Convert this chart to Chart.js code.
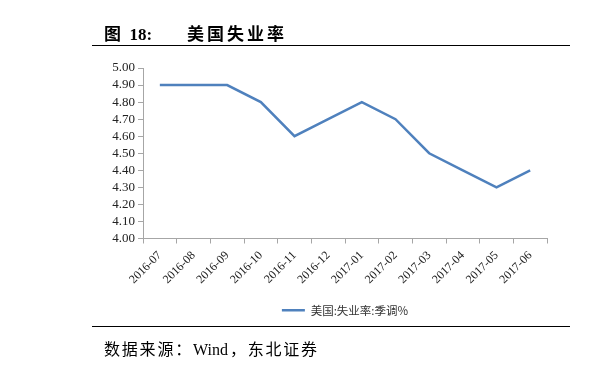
<!DOCTYPE html>
<html>
<head>
<meta charset="utf-8">
<script src="https://cdn.jsdelivr.net/npm/chart.js@4"></script>
<style>
  html, body { margin: 0; padding: 0; background: #fff; }
  #wrap { position: relative; width: 601px; height: 376px; overflow: hidden; }
  #chart { position: absolute; left: 0; top: 0; }
  .title { position: absolute; left: 104px; top: 20px; font: bold 17px "Liberation Serif", "Noto Sans CJK SC", serif; color: #000; white-space: pre; }
  .title .cn { position: absolute; left: 83px; top: 0; letter-spacing: 3px; }
  .rule { position: absolute; left: 92px; width: 478px; height: 0; border-top: 1.6px solid #000; }
  .source { position: absolute; left: 104px; top: 336px; font: 16px "Liberation Serif", "Noto Sans CJK SC", serif; color: #000; white-space: pre; letter-spacing: 1.8px; }
  .source .en { letter-spacing: 0; margin-right: 2px; }
</style>
</head>
<body>
<div id="wrap">
  <canvas id="chart" width="601" height="376"></canvas>
  <div class="title">图  18:<span class="cn">美国失业率</span></div>
  <div class="rule" style="top:45px"></div>
  <div class="rule" style="top:326px"></div>
  <div class="source">数据来源：<span class="en">Wind</span>，东北证券</div>
</div>
<script>
const months = ["2016-07", "2016-08", "2016-09", "2016-10", "2016-11", "2016-12",
                "2017-01", "2017-02", "2017-03", "2017-04", "2017-05", "2017-06"];
const unemployment = [4.9, 4.9, 4.9, 4.8, 4.6, 4.7, 4.8, 4.7, 4.5, 4.4, 4.3, 4.4];
const seriesName = "美国:失业率:季调%";

const blue = "#4F81BD";
const axisGray = "#A6A6A6";

// keep the legend centred under the plot area, not the whole canvas
const centreLegend = {
  id: "centreLegend",
  beforeDraw(chart) {
    const lg = chart.legend;
    if (!lg) return;
    lg.left = chart.chartArea.left;
    lg.right = chart.chartArea.right;
    lg.width = lg.right - lg.left;
  }
};

new Chart(document.getElementById("chart").getContext("2d"), {
  type: "line",
  data: {
    labels: months,
    datasets: [{
      label: seriesName,
      data: unemployment,
      borderColor: blue,
      backgroundColor: blue,
      borderWidth: 2.5,
      pointRadius: 0,
      tension: 0
    }]
  },
  plugins: [centreLegend],
  options: {
    responsive: false,
    animation: false,
    layout: { padding: { top: 68, left: 0, right: 54, bottom: 50 } },
    plugins: {
      tooltip: { enabled: false },
      legend: {
        position: "bottom",
        labels: {
          boxWidth: 23,
          boxHeight: 2.5,
          padding: 10,
          color: "#333",
          font: { family: "'Noto Sans CJK SC', 'Liberation Serif'", size: 11.5 },
          generateLabels: chart =>
            Chart.defaults.plugins.legend.labels.generateLabels(chart)
              .map(l => Object.assign(l, { lineWidth: 0 }))
        }
      }
    },
    scales: {
      x: {
        offset: true,
        grid: { offset: true, drawOnChartArea: false, color: axisGray, tickLength: 5 },
        border: { color: axisGray },
        ticks: {
          minRotation: 45, maxRotation: 45, autoSkip: false,
          padding: 5,
          color: "#222",
          font: { family: "'Liberation Serif'", size: 12 }
        },
        afterFit: s => { s.height = 56; }
      },
      y: {
        min: 4.0, max: 5.0,
        grid: { drawOnChartArea: false, color: axisGray, tickLength: 5 },
        border: { color: axisGray },
        ticks: {
          stepSize: 0.1,
          autoSkip: false,
          color: "#222",
          padding: 3,
          font: { family: "'Liberation Serif'", size: 13 },
          callback: v => v.toFixed(2)
        },
        afterFit: s => { s.width = 143; }
      }
    }
  }
});
</script>
</body>
</html>
